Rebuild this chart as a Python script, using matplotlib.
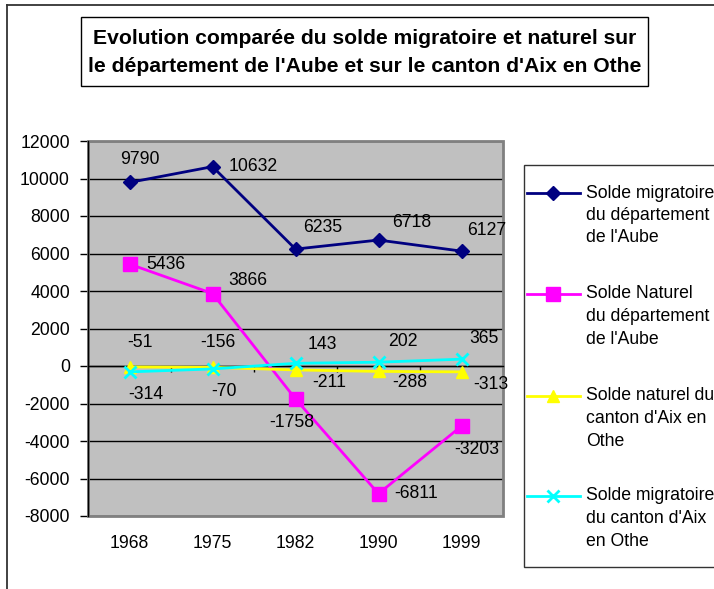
import matplotlib
matplotlib.use("Agg")
import matplotlib.pyplot as plt
from matplotlib.patches import Rectangle
from matplotlib.lines import Line2D
import matplotlib.transforms as mtransforms

plt.rcParams['font.family'] = ['Liberation Sans', 'DejaVu Sans']

# ---- data ----
years = ["1968", "1975", "1982", "1990", "1999"]
migr_aube = [9790, 10632, 6235, 6718, 6127]
nat_aube = [5436, 3866, -1758, -6811, -3203]
nat_canton = [-51, -70, -211, -288, -313]
migr_canton = [-314, -156, 143, 202, 365]
series_names = [
    "Solde migratoire\ndu département\nde l'Aube",
    "Solde Naturel\ndu département\nde l'Aube",
    "Solde naturel du\ncanton d'Aix en\nOthe",
    "Solde migratoire\ndu canton d'Aix\nen Othe",
]
title = "Evolution comparée du solde migratoire et naturel sur\nle département de l'Aube et sur le canton d'Aix en Othe"
y_ticks = [-8000, -6000, -4000, -2000, 0, 2000, 4000, 6000, 8000, 10000, 12000]

# ---- styles ----
series = [migr_aube, nat_aube, nat_canton, migr_canton]
colors = ["#000080", "#FF00FF", "#FFFF00", "#00FFFF"]
markers = ["D", "s", "^", "x"]
msizes = [7, 10, 9, 9]
FS = 12.7
# label offsets (pixels) for each series/point
offsets = [
    [(10, 23), (41, 0), (27, 22), (33, 18), (25, 21)],
    [(36, 0), (35, 13), (-4, -24), (38, 0), (15, -23)],
    [(10, 24), (12, -24), (34, -13), (31, -11), (29, -13)],
    [(16, -23), (5, 26), (27, 19), (24, 21), (22, 21)],
]

W, H = 714, 589
fig = plt.figure(figsize=(W / 100, H / 100), dpi=100)
fig.patch.set_facecolor("white")

def fx(px):
    return px / W

def fy(py):
    return 1 - py / H

# outer chart border (top and left visible)
fig.add_artist(Line2D([fx(7), fx(7)], [fy(5), fy(600)], color="#333333", lw=1.3, transform=fig.transFigure))
fig.add_artist(Line2D([fx(7), fx(720)], [fy(5), fy(5)], color="#333333", lw=1.3, transform=fig.transFigure))

# title box
fig.add_artist(Rectangle((fx(81), fy(86)), fx(648) - fx(81), fy(17) - fy(86),
                         transform=fig.transFigure, facecolor="white", edgecolor="black", lw=1))
tl = title.split("\n")
fig.text(fx(365), fy(38), tl[0], ha="center", va="center", fontsize=15.2, fontweight="bold")
fig.text(fx(365), fy(66), tl[1], ha="center", va="center", fontsize=15.2, fontweight="bold")

# axes
L, R, T, B = 88, 503, 141, 516
ax = fig.add_axes([fx(L), fy(B), fx(R) - fx(L), fy(T) - fy(B)])
ax.set_facecolor("#C0C0C0")
ax.set_ylim(-8000, 12000)
ax.set_xlim(-0.5, len(years) - 0.5)
ax.set_yticks(y_ticks)
ax.set_yticklabels([str(v) for v in y_ticks], fontsize=FS)
ax.tick_params(axis="y", direction="out", length=6, width=1, pad=7)
ax.yaxis.grid(True, color="black", lw=1)
ax.set_axisbelow(True)

for s in ["top", "right"]:
    ax.spines[s].set_visible(False)
ax.spines["left"].set_color("black")
ax.spines["left"].set_linewidth(1)
ax.spines["bottom"].set_position(("data", 0))
ax.spines["bottom"].set_color("black")
ax.spines["bottom"].set_linewidth(1)
ax.set_xticks([i + 0.5 for i in range(-1, len(years))])
ax.set_xticklabels([])
ax.tick_params(axis="x", direction="out", length=4, width=1)

# plot area border
ax.add_patch(Rectangle((0, 0), 1, 1, transform=ax.transAxes, fill=False,
                       edgecolor="#808080", lw=2, zorder=1.5, clip_on=False))

xs = list(range(len(years)))
for vals, c, m, ms, offs in zip(series, colors, markers, msizes, offsets):
    ax.plot(xs, vals, color=c, lw=2, marker=m, markersize=ms,
            markeredgewidth=2 if m == "x" else 1, markeredgecolor=c, markerfacecolor=c,
            clip_on=False, zorder=3)
    for x, v, (dx, dy) in zip(xs, vals, offs):
        ax.annotate(str(v), (x, v), xytext=(dx, dy), textcoords="offset pixels",
                    ha="center", va="center", fontsize=FS, zorder=4, annotation_clip=False)

# category labels
trans = mtransforms.blended_transform_factory(ax.transData, fig.transFigure)
for x, lab in zip(xs, years):
    ax.text(x, fy(543), lab, transform=trans, ha="center", va="center", fontsize=FS)

# legend (manual)
fig.add_artist(Rectangle((fx(524), fy(567)), fx(740) - fx(524), fy(165) - fy(567),
                         transform=fig.transFigure, facecolor="white", edgecolor="#333333", lw=1))
entry_y = [193, 294, 396, 496]
for name, c, m, ms, ey in zip(series_names, colors, markers, msizes, entry_y):
    fig.add_artist(Line2D([fx(527), fx(580)], [fy(ey), fy(ey)], color=c, lw=2,
                          transform=fig.transFigure))
    fig.add_artist(Line2D([fx(553)], [fy(ey)], color=c, marker=m, markersize=ms,
                          markeredgewidth=2 if m == "x" else 1, markerfacecolor=c,
                          markeredgecolor=c, transform=fig.transFigure))
    for k, line in enumerate(name.split("\n")):
        fig.text(fx(586), fy(ey + 22.5 * k), line, ha="left", va="center", fontsize=FS)

fig.savefig("out.png", dpi=100)
